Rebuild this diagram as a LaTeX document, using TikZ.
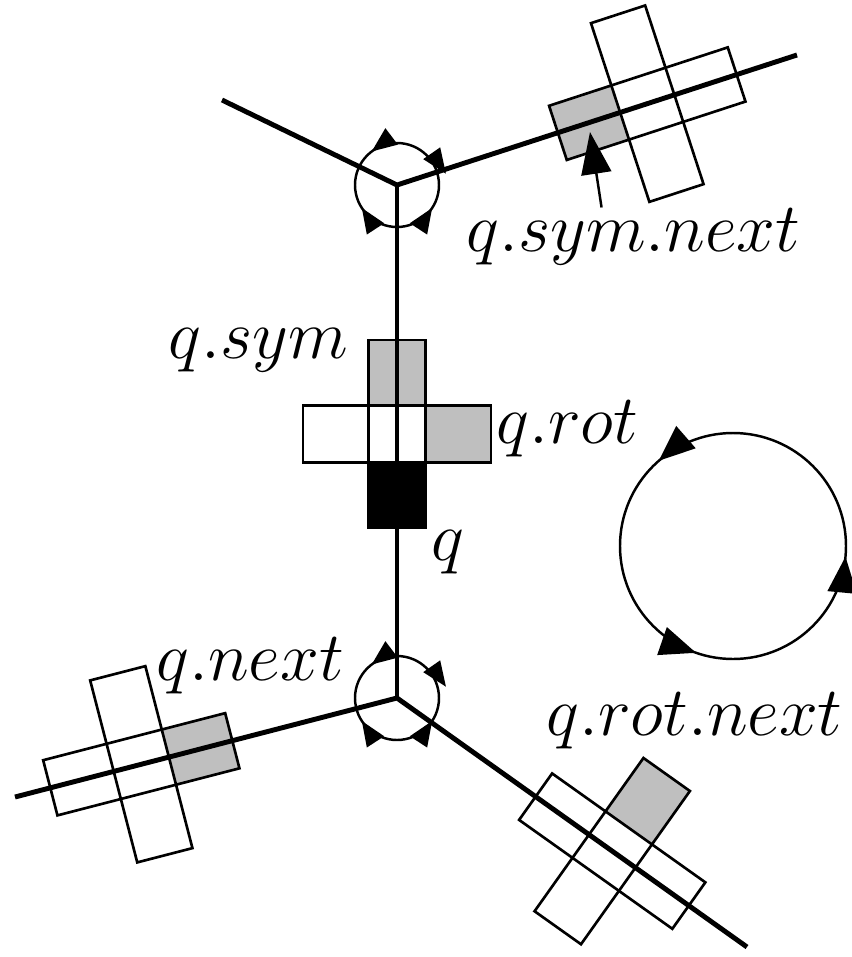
\RequirePackage{fix-cm}
\documentclass[tikz,border=0pt]{standalone}
\usetikzlibrary{arrows.meta,calc,decorations.markings}

% cross of four cells: #1 centre, #2 angle of the edge,
% fills of #3 origin cell, #4 dest cell, #5 right cell, #6 left cell
\newcommand{\qecross}[6]{%
  \begin{scope}[shift={(#1)}, rotate=#2]
    \fill[#3] (-94,-28.5) rectangle (-28.5,28.5);
    \fill[#4] (28.5,-28.5) rectangle (94,28.5);
    \fill[#5] (-28.5,-94) rectangle (28.5,-28.5);
    \fill[#6] (-28.5,28.5) rectangle (28.5,94);
    \draw[cell] (-94,-28.5) rectangle (94,28.5);
    \draw[cell] (-28.5,-94) rectangle (28.5,94);
  \end{scope}}

\begin{document}
\begin{tikzpicture}[x=0.01cm, y=0.01cm,
  edge/.style={line width=1.4pt},
  cell/.style={line width=0.75pt},
  ring/.style={line width=0.7pt},
  lbl/.style={font=\fontsize{19.8}{24}\selectfont, inner sep=0pt},
  ptr/.style={line width=0.7pt, -{Triangle[length=0.42cm, width=0.3cm]}},
  vring/.style={ring, postaction={decorate}, decoration={markings,
    mark=at position 0.353 with {\arrow{Triangle[length=0.25cm, width=0.2cm]}},
    mark=at position 0.022 with {\arrowreversed{Triangle[length=0.25cm, width=0.2cm]}},
    mark=at position 0.592 with {\arrowreversed{Triangle[length=0.25cm, width=0.2cm]}},
    mark=at position 0.908 with {\arrow{Triangle[length=0.25cm, width=0.2cm]}}}},
  bigring/.style={ring, postaction={decorate}, decoration={markings,
    mark=at position 0.364 with {\arrow{Triangle[length=0.36cm, width=0.29cm]}},
    mark=at position 0.697 with {\arrow{Triangle[length=0.36cm, width=0.29cm]}},
    mark=at position 0.985 with {\arrow{Triangle[length=0.36cm, width=0.29cm]}}}},
]
  \useasboundingbox (0,0) rectangle (851,-957);

  % vertices and free ends of the edges
  \coordinate (vtop) at (397,-185);
  \coordinate (vbot) at (397,-698);
  \coordinate (etl) at (222,-100);
  \coordinate (etr) at (797,-55);
  \coordinate (ebl) at (15,-797);
  \coordinate (ebr) at (747,-947);
  \coordinate (rotc) at (733,-546);

  % edge records
  \qecross{$(vbot)!2.64cm!(vtop)$}{90}{black}{black!25}{black!25}{white}
  \qecross{$(vbot)!2.64cm!(ebl)$}{194.5}{black!25}{white}{white}{white}
  \qecross{$(vtop)!2.63cm!(etr)$}{18.1}{black!25}{white}{white}{white}
  \qecross{$(vbot)!2.64cm!(ebr)$}{-35.4}{white}{white}{white}{black!25}

  % orientation rings
  \draw[vring] (vtop) circle (42);
  \draw[vring] (vbot) circle (42);
  \draw[bigring] (rotc) circle (113);

  % edges
  \draw[edge] (etl) -- (vtop) -- (etr);
  \draw[edge] (vtop) -- (vbot);
  \draw[edge] (ebl) -- (vbot) -- (ebr);

  % labels
  \node[lbl, anchor=base west] (lsym) at (168,-358) {$q.sym$};
  \node[lbl, anchor=base west] (lrot) at (496,-443) {$q.rot$};
  \node[lbl, anchor=base west] (lq) at (431,-560) {$q$};
  \node[lbl, anchor=base west] (lnext) at (156,-680) {$q.next$};
  \node[lbl, anchor=base west] (lrotnext) at (546,-735) {$q.rot.next$};
  \node[lbl, anchor=base west] (lsymnext) at (466,-251) {$q.sym.next$};
  \coordinate (symnextcell) at (590,-132);
  \draw[ptr] ([xshift=-0.32cm]lsymnext.north) -- (symnextcell);
\end{tikzpicture}
\end{document}
